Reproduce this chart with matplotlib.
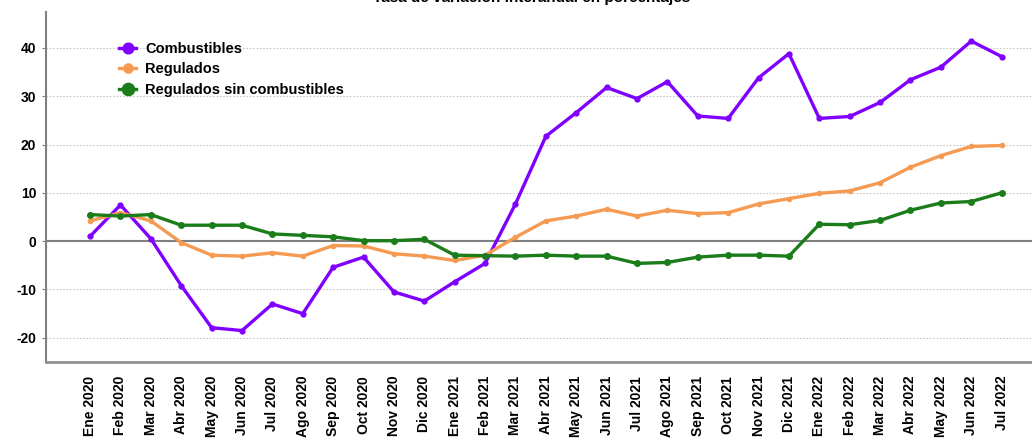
import numpy as np
import matplotlib.pyplot as plt

plt.rcParams['font.family'] = ['Liberation Sans', 'DejaVu Sans']

# Data
meses = ['Ene 2020', 'Feb 2020', 'Mar 2020', 'Abr 2020', 'May 2020', 'Jun 2020',
         'Jul 2020', 'Ago 2020', 'Sep 2020', 'Oct 2020', 'Nov 2020', 'Dic 2020',
         'Ene 2021', 'Feb 2021', 'Mar 2021', 'Abr 2021', 'May 2021', 'Jun 2021',
         'Jul 2021', 'Ago 2021', 'Sep 2021', 'Oct 2021', 'Nov 2021', 'Dic 2021',
         'Ene 2022', 'Feb 2022', 'Mar 2022', 'Abr 2022', 'May 2022', 'Jun 2022',
         'Jul 2022']
combustibles = [1.0, 7.5, 0.5, -9.2, -17.9, -18.5, -13.0, -15.0, -5.4, -3.3,
                -10.5, -12.4, -8.4, -4.6, 7.7, 21.7, 26.6, 31.8, 29.5, 33.0,
                25.9, 25.4, 33.8, 38.8, 25.4, 25.8, 28.7, 33.4, 36.0, 41.4, 38.2]
regulados = [4.2, 5.9, 4.2, -0.3, -2.9, -3.1, -2.4, -3.1, -0.9, -1.0,
             -2.6, -3.1, -4.0, -2.9, 0.8, 4.2, 5.2, 6.6, 5.2, 6.4,
             5.7, 5.9, 7.7, 8.8, 9.9, 10.4, 12.1, 15.3, 17.7, 19.6, 19.8]
regulados_sin = [5.5, 5.2, 5.5, 3.3, 3.3, 3.3, 1.5, 1.2, 0.9, 0.1,
                 0.1, 0.4, -2.9, -3.0, -3.1, -2.9, -3.1, -3.1, -4.6, -4.4,
                 -3.3, -2.9, -2.9, -3.1, 3.5, 3.4, 4.3, 6.4, 7.9, 8.2, 10.0]

x = np.arange(len(meses))

fig = plt.figure(figsize=(10.32, 4.48), dpi=100)
ax = fig.add_axes([0.0446, 0.192, 0.9554, 0.781])

ax.plot(x, combustibles, color='#8000FF', lw=2.4, marker='o', ms=3.5,
        label='Combustibles')
ax.plot(x, regulados, color='#F59A52', lw=2.4, marker='o', ms=3,
        label='Regulados')
ax.plot(x, regulados_sin, color='#1A7D1A', lw=2.4, marker='o', ms=4,
        label='Regulados sin combustibles')

ax.axhline(0, color='#808080', lw=1.5, zorder=1)
for yv in [-20, -10, 10, 20, 30, 40]:
    ax.axhline(yv, color='#C8C8C8', lw=0.8, ls=(0, (1.5, 1.5)), zorder=0)

ax.set_xlim(-1.45, 31.0)
ax.set_ylim(-25, 47.4)
ax.set_yticks([-20, -10, 0, 10, 20, 30, 40])
ax.set_yticklabels(['-20', '-10', '0', '10', '20', '30', '40'],
                   fontsize=10, fontweight='bold')
ax.set_xticks(x)
ax.set_xticklabels(meses, rotation=90, fontsize=10, fontweight='bold')
ax.tick_params(axis='x', length=0, pad=10)
ax.tick_params(axis='y', length=3, color='#808080', pad=4)

for s in ['top', 'right']:
    ax.spines[s].set_visible(False)
ax.spines['left'].set_color('#808080')
ax.spines['left'].set_linewidth(1.5)
ax.spines['bottom'].set_color('#909090')
ax.spines['bottom'].set_linewidth(2)

leg = ax.legend(loc='upper left', bbox_to_anchor=(0.068, 0.932), frameon=False,
                prop={'weight': 'bold', 'size': 10.5}, handlelength=1.2,
                handletextpad=0.6, labelspacing=0.45, borderaxespad=0,
                markerscale=2.2)

fig.text(0.515, 1.005, 'Tasa de variación interanual en porcentajes',
         ha='center', va='center', fontsize=11, fontweight='bold')

fig.savefig('out.png', dpi=100)
